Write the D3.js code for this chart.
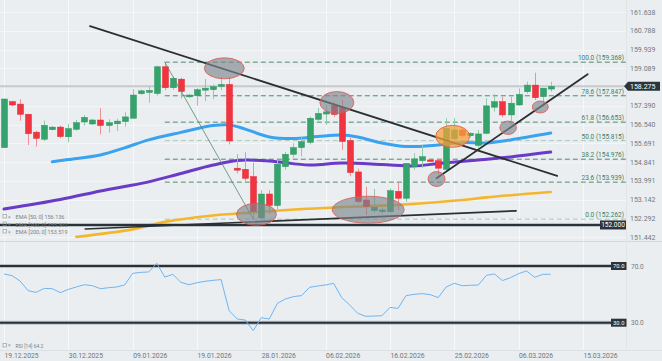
<!DOCTYPE html>
<html>
<head>
<meta charset="utf-8">
<script src="https://cdn.jsdelivr.net/npm/d3@7"></script>
<style>
body { margin: 0; background: #eaeef1; }
svg { display: block; font-family: Roboto, "DejaVu Sans", sans-serif; }
</style>
</head>
<body>
<svg id="chart" width="662" height="361"></svg>
<script>
//dimensions
var width = 662, height = 361;
var plotRight = 626, pricePanelBottom = 241, rsiPanelBottom = 350;

//daily candles (index 0 = 19.12.2025)
var opens  = [155.50,157.58,157.47,157.01,156.20,155.88,156.31,156.43,155.99,156.33,156.66,156.57,156.75,156.50,156.58,156.68,156.83,157.94,158.00,157.95,
              159.16,158.21,158.60,157.80,157.85,158.10,158.12,158.27,158.36,154.57,154.52,154.19,152.32,153.40,152.88,154.64,155.20,155.50,155.74,156.78,
              157.02,157.40,157.30,155.82,154.40,153.13,152.65,152.60,152.60,153.52,153.21,154.64,154.91,154.94,154.91,154.52,155.90,156.30,156.04,155.60,
              156.15,157.33,157.58,156.98,157.43,158.03,158.33,157.81,158.15];
var highs  = [157.72,157.62,157.69,157.03,156.26,156.72,156.47,156.50,156.57,156.75,156.98,156.80,157.28,156.78,156.80,157.10,158.15,158.12,158.26,159.20,
              159.368,158.72,158.66,157.92,158.19,158.60,158.36,158.70,158.66,155.20,155.29,154.82,153.58,153.58,154.94,155.30,155.70,156.00,156.90,157.30,
              157.43,157.55,157.65,155.95,154.55,153.73,153.63,152.78,153.65,153.91,154.80,155.25,155.62,155.00,155.00,156.83,156.83,156.40,156.20,156.30,
              157.73,157.92,157.80,157.80,158.18,158.48,158.89,158.19,158.48];
var lows   = [155.48,157.37,156.72,155.62,155.54,155.80,156.28,155.93,155.74,156.27,156.50,156.52,156.10,156.18,156.25,156.45,156.83,157.90,157.53,157.85,
              158.10,158.12,157.72,157.75,157.40,157.61,157.70,158.10,155.65,154.34,153.99,152.262,152.28,152.50,152.70,154.50,155.05,155.10,155.65,156.70,
              156.53,156.90,155.40,154.20,152.98,152.45,152.54,152.52,152.55,152.68,153.05,154.50,154.58,154.85,154.27,154.40,155.70,155.95,155.95,155.50,
              156.10,157.13,156.87,156.55,157.40,157.95,157.66,157.36,158.03];
var closes = [157.70,157.43,157.01,156.13,155.92,156.51,156.43,156.00,156.36,156.63,156.87,156.75,156.50,156.63,156.70,156.89,157.88,158.07,158.09,159.16,
              158.21,158.64,158.04,157.88,158.12,158.19,158.26,158.36,155.80,154.48,154.11,152.60,153.40,152.88,154.75,155.20,155.50,155.77,156.83,157.05,
              157.12,157.00,155.78,154.37,153.06,152.83,152.80,152.68,153.55,153.21,154.79,154.99,155.09,154.90,154.57,156.38,156.30,156.05,156.15,156.12,
              157.39,157.58,156.98,157.51,157.91,158.33,157.76,158.19,158.275];

//RSI 14
var rsiVals = [64.4,63.2,59.4,52.6,51.4,54.2,54.0,51.2,53.5,55.2,56.8,56.1,54.0,54.7,55.2,56.6,64.8,65.5,65.8,71.9,
               62.2,64.1,58.5,56.8,58.2,59.2,59.9,60.4,38.5,32.6,31.9,24.4,33.5,32.6,43.7,46.7,48.4,49.1,54.9,55.9,
               56.6,57.8,47.7,42.5,36.6,34.5,34.7,34.9,40.8,40.1,49.1,50.0,50.5,49.8,47.7,55.2,57.8,56.1,56.4,56.6,
               63.4,64.4,59.7,61.8,64.6,66.5,62.0,64.1,64.2];

//moving averages, read at some candles
var ema50Idx = [6,8,12,15,18,22,26,28,30,33,36,39,42,44,47,50,54,57,60,63,68];
var ema50Val = [154.86,154.96,155.17,155.49,155.85,156.19,156.50,156.53,156.34,155.98,155.91,156.00,156.07,155.98,155.71,155.55,155.62,155.73,155.71,155.85,156.16];
var ema100Idx = [0,7,12,15,18,22,26,29,33,38,42,47,51,54,59,63,68];
var ema100Val = [152.72,153.15,153.54,153.74,153.95,154.33,154.71,154.92,154.90,154.71,154.80,154.74,154.67,154.78,154.94,155.08,155.30];
var ema200Idx = [9,16,20,26,30,36,41,50,57,60,68];
var ema200Val = [151.46,151.80,152.14,152.43,152.54,152.70,152.79,152.93,153.13,153.25,153.49];

//fibonacci retracement
var fibRatios = ['100.0','78.6','61.8','50.0','38.2','23.6','0.0'];
var fibPrices = [159.368,157.847,156.653,155.815,154.976,153.939,152.262];
var fibLight  = [false,false,false,true,false,false,true];
var fibLeg = [[20,159.368],[31,152.262]];

//drawn trend lines [index, price]
var downTrend = [[10.7,161.00],[68.8,154.22]];
var upTrend   = [[53.8,154.11],[72.6,158.82]];
var baseTrend = [[10.1,151.82],[63.7,152.64]];
var supportLevel = 152.000;
var lastPrice = 158.275;

//highlight marks
var markIdx   = [27.4,41.4,31.4,45.3,53.8,62.7,66.7,55.8];
var markPrice = [159.09,157.54,152.48,152.69,154.08,156.40,157.34,156.01];
var markSize  = [[20,10.5],[17,11],[20,11],[36,13.5],[8.5,7.5],[8.3,6.7],[8,6],[17,11]];
var markOrange = [false,false,false,false,false,false,false,true];

//axes
var priceTicks = [161.638,160.788,159.939,159.089,157.390,156.540,155.691,154.841,153.991,153.142,152.292,151.442];
var dateLabels = ['19.12.2025','30.12.2025','09.01.2026','19.01.2026','28.01.2026','06.02.2026','16.02.2026','25.02.2026','06.03.2026','15.03.2026'];
var dateIdx = [0,8,16,24,32,40,48,56,64,72];
var legendNames = ['EMA [50, 0] 156.136','EMA [100, 0] 155.302','EMA [200, 0] 153.519'];

var x = d3.scaleLinear().domain([0, 68]).range([4, 4 + 68 * 8.04]);
var y = d3.scaleLinear().domain([151.442, 161.638]).range([237.3, 12]);
var yr = d3.scaleLinear().domain([30, 70]).range([322.7, 266]);

var svg = d3.select('#chart');
svg.append('rect').attr('width', width).attr('height', height).attr('fill', '#eaeef1');

var defs = svg.append('defs');
defs.append('clipPath').attr('id', 'clipPrice')
  .append('rect').attr('x', 0).attr('y', 0).attr('width', plotRight).attr('height', pricePanelBottom);
defs.append('clipPath').attr('id', 'clipRsi')
  .append('rect').attr('x', 0).attr('y', pricePanelBottom).attr('width', plotRight).attr('height', rsiPanelBottom - pricePanelBottom);

//grid
svg.append('g').selectAll('line').data(priceTicks).enter().append('line')
  .attr('x1', 0).attr('x2', plotRight)
  .attr('y1', function(d){ return Math.round(y(d)) + 0.5; })
  .attr('y2', function(d){ return Math.round(y(d)) + 0.5; })
  .attr('stroke', '#f3f5f6').attr('stroke-width', 1);
svg.append('g').selectAll('line').data(dateIdx).enter().append('line')
  .attr('x1', function(d){ return Math.round(x(d)) + 0.5; })
  .attr('x2', function(d){ return Math.round(x(d)) + 0.5; })
  .attr('y1', 0).attr('y2', rsiPanelBottom)
  .attr('stroke', '#f7f8f9').attr('stroke-width', 1);

//panel separators
svg.append('line').attr('x1', 0).attr('x2', width).attr('y1', pricePanelBottom + 0.5).attr('y2', pricePanelBottom + 0.5)
  .attr('stroke', '#d3d8dc');
svg.append('line').attr('x1', 0).attr('x2', width).attr('y1', rsiPanelBottom + 0.5).attr('y2', rsiPanelBottom + 0.5)
  .attr('stroke', '#dde1e4');
svg.append('line').attr('x1', plotRight + 0.5).attr('x2', plotRight + 0.5).attr('y1', 0).attr('y2', rsiPanelBottom)
  .attr('stroke', '#e1e5e8');

var price = svg.append('g').attr('clip-path', 'url(#clipPrice)');

//last price line
price.append('line').attr('x1', 0).attr('x2', plotRight)
  .attr('y1', y(lastPrice)).attr('y2', y(lastPrice))
  .attr('stroke', '#c6cacd').attr('stroke-width', 2);

//fib levels
var fib = price.append('g');
fib.selectAll('line').data(fibPrices).enter().append('line')
  .attr('x1', x(fibLeg[0][0])).attr('x2', plotRight)
  .attr('y1', function(d){ return y(d); }).attr('y2', function(d){ return y(d); })
  .attr('stroke', function(d, i){ return fibLight[i] ? '#a9c9b9' : '#4f8a6b'; })
  .attr('stroke-width', 1)
  .attr('stroke-dasharray', '5,3');
fib.selectAll('text').data(fibPrices).enter().append('text')
  .attr('x', plotRight - 2)
  .attr('y', function(d){ return y(d) - 2; })
  .attr('text-anchor', 'end')
  .attr('font-size', 6.5)
  .attr('fill', '#3f7d5e')
  .text(function(d, i){ return fibRatios[i] + ' (' + d.toFixed(3) + ')'; });

//moving averages
function emaLine(idx, vals, color, w) {
  var pts = idx.map(function(d, i){ return [x(d), y(vals[i])]; });
  price.append('path')
    .attr('d', d3.line().curve(d3.curveCatmullRom)(pts))
    .attr('fill', 'none')
    .attr('stroke', color)
    .attr('stroke-width', w)
    .attr('stroke-linecap', 'round');
}
emaLine(ema200Idx, ema200Val, '#f4b62c', 2.6);
emaLine(ema100Idx, ema100Val, '#6a3bc6', 3);
emaLine(ema50Idx, ema50Val, '#3aa3ef', 3);

//support level
price.append('line').attr('x1', 0).attr('x2', plotRight)
  .attr('y1', y(supportLevel)).attr('y2', y(supportLevel))
  .attr('stroke', '#9aa2a7').attr('stroke-width', 4).attr('stroke-opacity', 0.6);
price.append('line').attr('x1', 0).attr('x2', plotRight)
  .attr('y1', y(supportLevel)).attr('y2', y(supportLevel))
  .attr('stroke', '#283238').attr('stroke-width', 2);

//candles
var candles = price.append('g').selectAll('g').data(opens).enter().append('g');
candles.append('line')
  .attr('x1', function(d, i){ return Math.round(x(i)) + 0.5; })
  .attr('x2', function(d, i){ return Math.round(x(i)) + 0.5; })
  .attr('y1', function(d, i){ return y(highs[i]); })
  .attr('y2', function(d, i){ return y(lows[i]); })
  .attr('stroke', function(d, i){ return closes[i] >= d ? '#8fcaa9' : '#f08f95'; })
  .attr('stroke-width', 1);
candles.append('rect')
  .attr('x', function(d, i){ return Math.round(x(i)) - 2.5; })
  .attr('width', 6)
  .attr('y', function(d, i){ return y(Math.max(d, closes[i])); })
  .attr('height', function(d, i){ return Math.max(1.5, Math.abs(y(d) - y(closes[i]))); })
  .attr('fill', function(d, i){ return closes[i] >= d ? '#35a46c' : '#f1343f'; })
  .attr('stroke', function(d, i){ return closes[i] >= d ? '#2e9660' : '#e22a35'; })
  .attr('stroke-width', 0.5);

//drawn lines
function segment(p, color, w) {
  price.append('line')
    .attr('x1', x(p[0][0])).attr('y1', y(p[0][1]))
    .attr('x2', x(p[1][0])).attr('y2', y(p[1][1]))
    .attr('stroke', color).attr('stroke-width', w).attr('stroke-linecap', 'round');
}
segment(fibLeg, '#4f8a6b', 0.8);
segment(baseTrend, '#2b2f32', 1.6);
segment(downTrend, '#2b2f32', 1.8);
segment(upTrend, '#2b2f32', 1.8);

//highlight ellipses
price.append('g').selectAll('ellipse').data(markIdx).enter().append('ellipse')
  .attr('cx', function(d){ return x(d); })
  .attr('cy', function(d, i){ return y(markPrice[i]); })
  .attr('rx', function(d, i){ return markSize[i][0]; })
  .attr('ry', function(d, i){ return markSize[i][1]; })
  .attr('fill', function(d, i){ return markOrange[i] ? '#f3a23a' : '#7d868d'; })
  .attr('fill-opacity', function(d, i){ return markOrange[i] ? 0.75 : 0.65; })
  .attr('stroke', '#e0574f')
  .attr('stroke-width', 0.8);

//EMA legend
var legend = svg.append('g');
legendNames.forEach(function(name, i) {
  var ly = 217 + i * 7.5;
  legend.append('rect').attr('x', 3).attr('y', ly - 2.5).attr('width', 3.5).attr('height', 3.5)
    .attr('fill', 'none').attr('stroke', '#8a9297').attr('stroke-width', 0.6);
  legend.append('text').attr('x', 8).attr('y', ly + 1.5).attr('font-size', 5).attr('fill', '#8a9297').text('\u00d7');
  legend.append('text').attr('x', 15.5).attr('y', ly + 2).attr('font-size', 5.5).attr('fill', '#7a8287').text(name);
});

//support label box
svg.append('rect').attr('x', 600).attr('y', y(supportLevel) - 4.5).attr('width', 26).attr('height', 9)
  .attr('fill', '#2b353b');
svg.append('text').attr('x', 613).attr('y', y(supportLevel) + 2.3).attr('text-anchor', 'middle')
  .attr('font-size', 6.5).attr('fill', '#ffffff').text(supportLevel.toFixed(3));

//price axis labels
svg.append('g').selectAll('text').data(priceTicks).enter().append('text')
  .attr('x', 630)
  .attr('y', function(d){ return y(d) + 2.5; })
  .attr('font-size', 7)
  .attr('fill', '#72797e')
  .text(function(d){ return d.toFixed(3); });

//last price marker
var ly0 = y(lastPrice);
svg.append('path')
  .attr('d', 'M' + 624 + ',' + ly0 + 'L' + 628 + ',' + (ly0 - 4.5) + 'L' + 660 + ',' + (ly0 - 4.5) + 'L' + 660 + ',' + (ly0 + 4.5) + 'L' + 628 + ',' + (ly0 + 4.5) + 'Z')
  .attr('fill', '#2b353b');
svg.append('text').attr('x', 630).attr('y', ly0 + 2.5).attr('font-size', 7).attr('fill', '#ffffff').text(lastPrice.toFixed(3));

//RSI panel
var rsi = svg.append('g').attr('clip-path', 'url(#clipRsi)');
[70, 30].forEach(function(lv) {
  rsi.append('line').attr('x1', 0).attr('x2', plotRight).attr('y1', yr(lv)).attr('y2', yr(lv))
    .attr('stroke', '#9aa2a7').attr('stroke-width', 4).attr('stroke-opacity', 0.6);
  rsi.append('line').attr('x1', 0).attr('x2', plotRight).attr('y1', yr(lv)).attr('y2', yr(lv))
    .attr('stroke', '#283238').attr('stroke-width', 2);
});
rsi.append('path')
  .datum(rsiVals)
  .attr('d', d3.line().x(function(d, i){ return x(i); }).y(function(d){ return yr(d); }))
  .attr('fill', 'none').attr('stroke', '#6fb5f2').attr('stroke-width', 1);

[70, 30].forEach(function(lv) {
  svg.append('rect').attr('x', 611).attr('y', yr(lv) - 4).attr('width', 15.5).attr('height', 8).attr('fill', '#2b353b');
  svg.append('text').attr('x', 618.75).attr('y', yr(lv) + 2.2).attr('text-anchor', 'middle')
    .attr('font-size', 5.8).attr('fill', '#ffffff').text(lv.toFixed(1));
  svg.append('text').attr('x', 631).attr('y', yr(lv) + 2.5).attr('font-size', 6.5).attr('fill', '#72797e').text(lv.toFixed(1));
});

//RSI legend
svg.append('rect').attr('x', 3).attr('y', 343.5).attr('width', 3.5).attr('height', 3.5)
  .attr('fill', 'none').attr('stroke', '#8a9297').attr('stroke-width', 0.6);
svg.append('text').attr('x', 8).attr('y', 347.3).attr('font-size', 5).attr('fill', '#8a9297').text('\u00d7');
svg.append('text').attr('x', 15.5).attr('y', 347.5).attr('font-size', 5).attr('fill', '#7a8287').text('RSI [14] 64.2');

//date axis
svg.append('g').selectAll('text').data(dateIdx).enter().append('text')
  .attr('x', function(d){ return x(d) + 0.5; })
  .attr('y', 358.3)
  .attr('font-size', 6.8)
  .attr('fill', '#6e757a')
  .text(function(d, i){ return dateLabels[i]; });
</script>
</body>
</html>
